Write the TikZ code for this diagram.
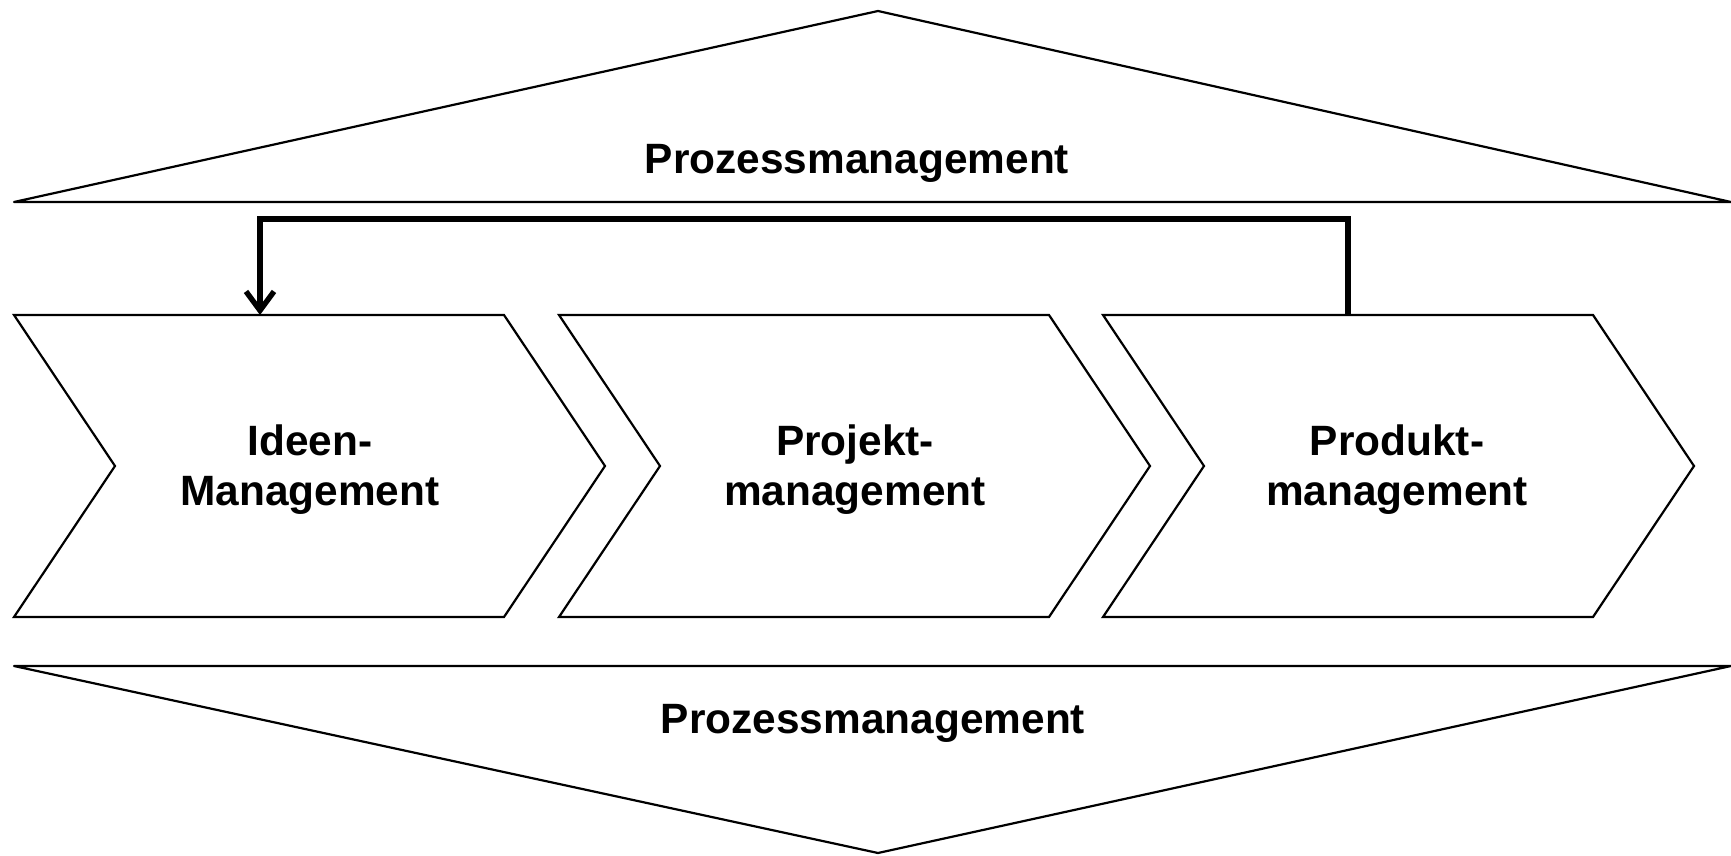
\documentclass[tikz,border=0pt]{standalone}
\usepackage{fontspec}
\setmainfont{Liberation Sans}
\usetikzlibrary{arrows.meta}
\begin{document}
\begin{tikzpicture}[x=0.5pt,y=-0.5pt,
  outline/.style={draw=black,line width=1.1pt,line join=round},
  lbl/.style={font=\bfseries\fontsize{21.2}{25}\selectfont,align=center,inner sep=0pt},
  feedback/.style={draw=black,line width=2.7pt,-{Straight Barb[length=9.5pt,width=14pt,line width=2.7pt]}}]
\useasboundingbox (0,0) rectangle (1731,856);
% top triangle
\draw[outline] (14,202) -- (878,11) -- (1731,202) -- cycle;
\node[lbl] (ptop) at (857,163) {Prozessmanagement};
% bottom triangle
\draw[outline] (14,666) -- (1731,666) -- (878,853) -- cycle;
\node[lbl] (pbot) at (873,723) {Prozessmanagement};
% chevrons
\foreach \x/\n in {14/c1,559/c2,1103/c3}{
  \draw[outline,line join=miter] (\x,315) -- ++(490,0) -- ++(101,151) -- ++(-101,151) -- ++(-490,0) -- ++(101,-151) -- cycle;
}
\node[lbl] (t1) at (310,470) {Ideen-\\Management};
\node[lbl] (t2) at (855,470) {Projekt-\\management};
\node[lbl] (t3) at (1397,470) {Produkt-\\management};
\coordinate (from) at (1348,315);
\coordinate (to) at (260,315);
\draw[feedback] (from) |- (803,219) -| (to);
\end{tikzpicture}
\end{document}
